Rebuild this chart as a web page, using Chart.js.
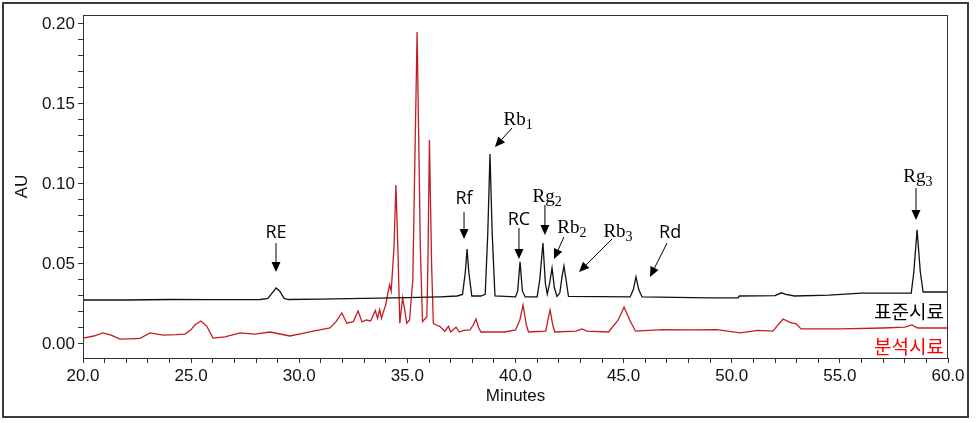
<!DOCTYPE html>
<html>
<head>
<meta charset="utf-8">
<script src="https://cdn.jsdelivr.net/npm/chart.js@4.4.1/dist/chart.umd.min.js"></script>
<style>
  html,body{margin:0;padding:0;background:#fff;}
  #wrap{position:relative;width:977px;height:423px;}
  #frame{position:absolute;left:2px;top:2px;width:967px;height:416px;box-sizing:border-box;border:2px solid #3a3a3a;pointer-events:none;}
</style>
</head>
<body>
<div id="wrap">
  <canvas id="c" width="977" height="423"></canvas>
  <div id="frame"></div>
</div>
<script>
// ---- data (time in minutes, absorbance in AU) ----
const stdTime = [20.0,22.0,24.0,26.0,28.2,28.55,28.75,28.93,29.1,29.3,29.5,31.0,33.0,35.0,36.5,37.3,37.55,37.68,37.76,37.84,37.98,38.4,38.6,38.72,38.82,38.92,39.05,40.0,40.1,40.21,40.32,40.45,41.0,41.12,41.27,41.38,41.47,41.58,41.69,41.8,41.92,42.05,42.15,42.24,42.34,42.45,45.3,45.45,45.57,45.7,45.85,49.0,50.3,50.35,52.0,52.3,52.5,52.9,54.5,56.0,57.5,58.3,58.42,58.57,58.72,58.85,60.0];
const stdAU   = [0.0275,0.0275,0.0278,0.0277,0.0278,0.0285,0.0320,0.0350,0.0330,0.0285,0.0278,0.0280,0.0285,0.0290,0.0295,0.0300,0.0310,0.0450,0.0594,0.0450,0.0300,0.0300,0.0310,0.0700,0.1188,0.0700,0.0300,0.0294,0.0330,0.0513,0.0330,0.0294,0.0294,0.0400,0.0631,0.0380,0.0312,0.0380,0.0475,0.0350,0.0297,0.0320,0.0420,0.0488,0.0400,0.0297,0.0294,0.0340,0.0419,0.0340,0.0294,0.0288,0.0288,0.0300,0.0302,0.0320,0.0310,0.0300,0.0306,0.0318,0.0318,0.0318,0.0450,0.0713,0.0450,0.0325,0.0325];

const smpTime = [20.0,20.5,20.92,21.3,21.71,22.2,22.64,23.10,23.70,24.3,24.72,25.0,25.18,25.46,25.73,26.01,26.57,27.26,27.95,28.65,29.57,30.1,30.64,31.42,31.7,31.97,32.2,32.5,32.72,32.9,33.1,33.3,33.52,33.62,33.72,33.8,33.9,34.0,34.1,34.18,34.25,34.38,34.47,34.56,34.65,34.78,34.88,34.97,35.1,35.25,35.45,35.6,35.7,35.9,35.95,36.02,36.12,36.2,36.3,36.5,36.73,36.9,37.0,37.25,37.4,37.6,37.9,38.05,38.17,38.3,38.4,39.5,40.0,40.2,40.35,40.5,40.6,41.4,41.5,41.6,41.72,41.82,42.8,43.07,43.3,44.3,44.75,45.02,45.28,45.55,46.8,48.0,49.3,50.4,51.2,51.9,52.37,52.7,53.0,53.2,55.0,57.0,58.0,58.33,58.6,60.0];
const smpAU   = [0.0037,0.0050,0.0069,0.0055,0.0030,0.0032,0.0035,0.0069,0.0056,0.0058,0.0062,0.0090,0.0120,0.0144,0.0110,0.0037,0.0045,0.0069,0.0062,0.0075,0.0050,0.0065,0.0080,0.0100,0.0140,0.0194,0.0130,0.0140,0.0206,0.0138,0.0150,0.0144,0.0210,0.0160,0.0215,0.0160,0.0205,0.0244,0.0320,0.0370,0.0330,0.0600,0.0994,0.0600,0.0130,0.0290,0.0210,0.0130,0.0150,0.0400,0.1950,0.0600,0.0140,0.0170,0.0500,0.1275,0.0500,0.0130,0.0120,0.0110,0.0080,0.0110,0.0075,0.0105,0.0075,0.0085,0.0088,0.0120,0.0156,0.0100,0.0075,0.0075,0.0088,0.0150,0.0244,0.0120,0.0075,0.0081,0.0150,0.0213,0.0120,0.0075,0.0080,0.0094,0.0080,0.0075,0.0150,0.0231,0.0150,0.0080,0.0090,0.0088,0.0090,0.0070,0.0085,0.0080,0.0156,0.0135,0.0125,0.0094,0.0095,0.0100,0.0105,0.0119,0.0100,0.0100];

const seriesNames = ['표준시료','분석시료'];
const xTickLabels = ['20.0','25.0','30.0','35.0','40.0','45.0','50.0','55.0','60.0'];
const yTickLabels = ['0.00','0.05','0.10','0.15','0.20'];

// peak labels: name, subscript, label point and arrow (data units)
const peakNames = ['RE','Rf','Rb','RC','Rg','Rb','Rb','Rd','Rg'];
const peakSubs  = ['','','1','','2','2','3','','3'];
const peakGeom = [
  {tx:28.925,ty:0.0694, ax:28.925,ay:0.0631, bx:28.925,by:0.0450},
  {tx:37.62, ty:0.0906, ax:37.62, ay:0.0825, bx:37.62, by:0.0656},
  {tx:40.12, ty:0.1400, ax:39.84, ay:0.1350, bx:39.05, by:0.1231},
  {tx:40.16, ty:0.0775, ax:40.16, ay:0.0725, bx:40.16, by:0.0531},
  {tx:41.46, ty:0.0919, ax:41.36, ay:0.0869, bx:41.36, by:0.0681},
  {tx:42.61, ty:0.0725, ax:42.24, ay:0.0669, bx:41.78, by:0.0531},
  {tx:44.74, ty:0.0700, ax:44.46, ay:0.0656, bx:42.94, by:0.0450},
  {tx:47.15, ty:0.0694, ax:47.01, ay:0.0631, bx:46.22, by:0.0419},
  {tx:58.61, ty:0.1044, ax:58.52, ay:0.0975, bx:58.52, by:0.0775}
];

const stdPts = stdTime.map((t,i)=>({x:t,y:stdAU[i]}));
const smpPts = smpTime.map((t,i)=>({x:t,y:smpAU[i]}));

const framePlugin = {
  id:'frameAndLabels',
  afterDatasetsDraw(chart){
    const {ctx, chartArea:a, scales:{x,y}} = chart;
    ctx.save();
    // plot frame
    ctx.strokeStyle = '#333';
    ctx.lineWidth = 1;
    ctx.strokeRect(a.left+0.5, a.top+0.5, a.right-a.left-1, a.bottom-a.top);
    // peak annotations
    peakNames.forEach((name,i)=>{
      const g = peakGeom[i], sub = peakSubs[i];
      const serif = sub !== '';
      const mainFont = serif ? '19px "Liberation Serif", "DejaVu Serif", serif' : '18px "Open Sans", "Noto Sans", sans-serif';
      const subFont = '14px "Liberation Serif", "DejaVu Serif", serif';
      ctx.font = mainFont;
      const w1 = ctx.measureText(name).width;
      ctx.font = subFont;
      const w2 = sub ? ctx.measureText(sub).width : 0;
      const tx = x.getPixelForValue(g.tx), ty = y.getPixelForValue(g.ty);
      let sx = tx - (w1+w2)/2;
      ctx.fillStyle = '#000';
      ctx.textBaseline = 'middle';
      ctx.textAlign = 'left';
      ctx.font = mainFont;
      ctx.fillText(name, sx, ty);
      if (sub){ ctx.font = subFont; ctx.fillText(sub, sx+w1, ty+5); }
      // arrow
      const x1 = x.getPixelForValue(g.ax), y1 = y.getPixelForValue(g.ay);
      const x2 = x.getPixelForValue(g.bx), y2 = y.getPixelForValue(g.by);
      const ang = Math.atan2(y2-y1, x2-x1);
      const L = 10, H = 4.5;
      const hx = x2 - L*Math.cos(ang), hy = y2 - L*Math.sin(ang);
      ctx.strokeStyle = '#000'; ctx.lineWidth = 1;
      ctx.beginPath(); ctx.moveTo(x1,y1); ctx.lineTo(hx,hy); ctx.stroke();
      ctx.beginPath();
      ctx.moveTo(x2,y2);
      ctx.lineTo(hx + H*Math.sin(ang), hy - H*Math.cos(ang));
      ctx.lineTo(hx - H*Math.sin(ang), hy + H*Math.cos(ang));
      ctx.closePath(); ctx.fill();
    });
    // series names
    ctx.font = '19px "Noto Sans CJK KR", sans-serif';
    ctx.textAlign = 'right';
    ctx.textBaseline = 'middle';
    ctx.fillStyle = '#000';
    ctx.fillText(seriesNames[0], a.right-4, y.getPixelForValue(0.0200));
    ctx.fillStyle = '#ff0000';
    ctx.fillText(seriesNames[1], a.right-4, y.getPixelForValue(-0.0020));
    ctx.restore();
  }
};

const tickFont = {family:'"Liberation Sans", Arial, sans-serif', size:17};

new Chart(document.getElementById('c'), {
  type:'line',
  data:{datasets:[
    {label:seriesNames[0], data:stdPts, borderColor:'#111', borderWidth:1.3, pointRadius:0, tension:0, fill:false},
    {label:seriesNames[1], data:smpPts, borderColor:'rgb(196,28,34)', borderWidth:1.3, pointRadius:0, tension:0, fill:false}
  ]},
  options:{
    responsive:false, animation:false, devicePixelRatio:1,
    layout:{padding:{left:8, top:15, right:29, bottom:12}},
    plugins:{legend:{display:false}, tooltip:{enabled:false}},
    scales:{
      x:{type:'linear', min:20, max:60,
        afterFit(s){ s.height = 53; },
        ticks:{stepSize:1, autoSkip:false, maxRotation:0, color:'#111', font:tickFont, padding:3,
          callback(v){ const k = Math.round(v); if (Math.abs(v-k)>1e-6 || k%5) return ''; return xTickLabels[(k-20)/5]; }},
        grid:{drawOnChartArea:false, drawTicks:true, tickLength:5, tickColor:'#333'},
        border:{display:true, color:'#333'},
        title:{display:true, text:'Minutes', color:'#111', font:tickFont, padding:{top:2,bottom:4}}
      },
      y:{type:'linear', min:-0.00875, max:0.2056,
        afterFit(s){ s.width = 75; },
        ticks:{stepSize:0.01, includeBounds:false, autoSkip:false, color:'#111', font:tickFont, padding:3,
          callback(v){ const k = Math.round(v*100); if (Math.abs(v*100-k)>1e-6 || k%5) return ''; return yTickLabels[k/5]; }},
        grid:{drawOnChartArea:false, drawTicks:true, tickLength:5, tickColor:'#333'},
        border:{display:true, color:'#333'},
        title:{display:true, text:'AU', color:'#111', font:tickFont, padding:{top:4,bottom:2}}
      }
    }
  },
  plugins:[framePlugin]
});
</script>
</body>
</html>
